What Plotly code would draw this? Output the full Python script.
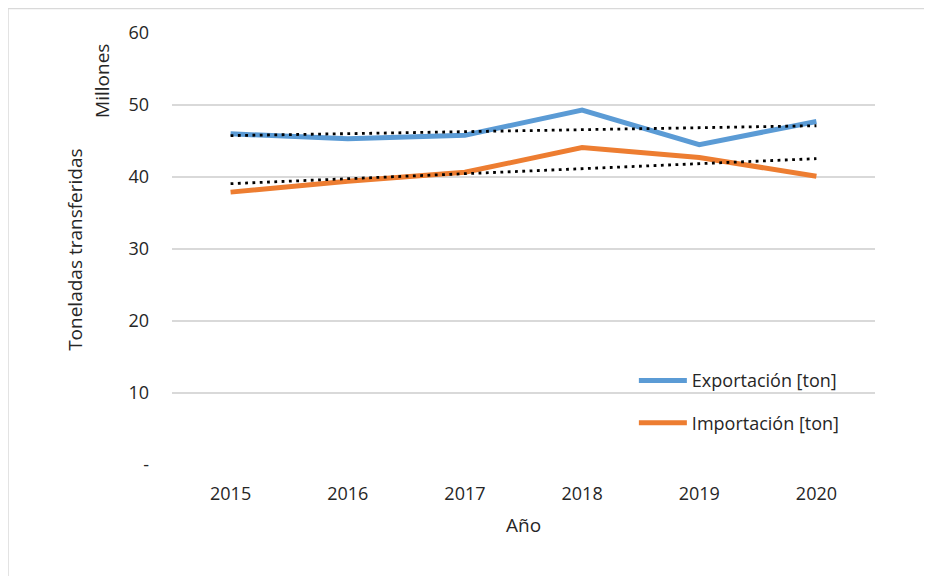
import numpy as np
import plotly.graph_objects as go

years = ["2015", "2016", "2017", "2018", "2019", "2020"]
exportacion = [46.0, 45.3, 45.8, 49.3, 44.5, 47.7]
importacion = [37.9, 39.4, 40.65, 44.1, 42.7, 40.1]
y_tickvals = [0, 10, 20, 30, 40, 50, 60]
y_ticktext = ["-", "10", "20", "30", "40", "50", "60"]

BLUE = "#5B9BD5"
ORANGE = "#ED7D31"
FONT = "Open Sans, Noto Sans, sans-serif"

xi = np.arange(len(years))

def trend(vals):
    m, b = np.polyfit(xi, np.array(vals), 1)
    return list(m * xi + b)

fig = go.Figure()
fig.add_trace(go.Scatter(x=years, y=exportacion, mode="lines", name="Exportación [ton]",
                         line=dict(color=BLUE, width=5), legendgroup="a"))
fig.add_trace(go.Scatter(x=years, y=importacion, mode="lines", name="Importación [ton]",
                         line=dict(color=ORANGE, width=5), legendgroup="b"))
fig.add_trace(go.Scatter(x=years, y=trend(exportacion), mode="lines", showlegend=False,
                         line=dict(color="black", width=2.8, dash="2.8px,4.5px")))
fig.add_trace(go.Scatter(x=years, y=trend(importacion), mode="lines", showlegend=False,
                         line=dict(color="black", width=2.8, dash="2.8px,4.5px")))

fig.update_layout(
    width=932, height=576,
    margin=dict(l=164, r=65, t=25, b=119),
    paper_bgcolor="white", plot_bgcolor="white",
    font=dict(family=FONT, size=18, color="#262626"),
    showlegend=True,
    legend=dict(x=0.657, y=0.238, xanchor="left", yanchor="top",
                bgcolor="rgba(0,0,0,0)", tracegroupgap=16,
                font=dict(family=FONT, size=18, color="#262626"), itemwidth=48),
    xaxis=dict(type="category", range=[-0.5, 5.5], showgrid=False, showline=False,
               zeroline=False, ticks="", ticklabelstandoff=16,
               tickfont=dict(size=18)),
    yaxis=dict(range=[0, 60], tickvals=y_tickvals, ticktext=y_ticktext,
               showgrid=True, gridcolor="#D9D9D9", gridwidth=1.5, zeroline=False,
               showline=False, ticks="", ticklabelstandoff=22,
               tickfont=dict(size=18)),
    annotations=[
        dict(text="Año", xref="paper", yref="paper", x=0.5, y=-0.139, showarrow=False,
             xanchor="center", yanchor="middle", font=dict(size=19)),
        dict(text="Toneladas transferidas", xref="paper", yref="paper", x=-0.138, y=0.498,
             textangle=-90, showarrow=False, xanchor="center", yanchor="middle",
             font=dict(size=19)),
        dict(text="Millones", xref="paper", yref="paper", x=-0.0996, y=0.889,
             textangle=-90, showarrow=False, xanchor="center", yanchor="middle",
             font=dict(size=19)),
    ],
    shapes=[
        dict(type="rect", xref="paper", yref="paper", x0=-0.2333, x1=1.0711, y0=-0.30, y1=1.0567,
             line=dict(color="#D9D9D9", width=1.5), layer="below"),
    ],
)

fig.write_html("out.html")
